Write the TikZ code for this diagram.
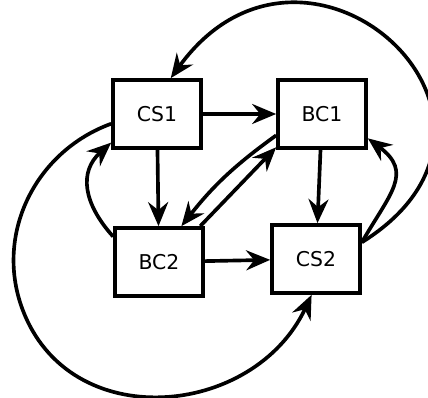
\documentclass[tikz,border=0pt]{standalone}
\usepackage{fontspec}
\setmainfont{DejaVu Sans}
\usetikzlibrary{arrows.meta}

\begin{document}
\begin{tikzpicture}[x=0.025cm, y=0.025cm, line width=2.6pt,
        state/.style={draw, rectangle, minimum width=2.2cm, minimum height=1.7cm,
            font={\fontsize{14.5}{17}\selectfont}},
        link/.style={-{Stealth[length=6mm, width=5mm, inset=2mm]}}]
        \useasboundingbox (0,0) rectangle (428,398);

        \node[state] (cs1) at (157,284) {CS1};
        \node[state] (bc1) at (322,284) {BC1};
        \node[state] (bc2) at (159,136) {BC2};
        \node[state] (cs2) at (316,139) {CS2};
        \coordinate (turn) at (22,90);

        % straight links
        \draw [link] (cs1) -- (bc1);
        \draw [link] (cs1) -- (bc2);
        \draw [link] (bc1) -- (cs2);
        \draw [link] (bc2) -- (cs2);
        \draw [link] (bc1.205) to[bend right=8] (bc2.58);
        \draw [link] (bc2.41) -- (bc1.216);

        % small loops
        \draw [link] (bc2.151) to[out=132, in=222, looseness=1.2] (cs1.212);
        \draw [link] (cs2.20) to[out=60, in=-37, looseness=1.4] (bc1.332);

        % big arcs
        \draw [link] (cs2.20) to[out=32, in=54, looseness=2.35] (cs1.69);
        \draw [link] (cs1.192) to[out=200, in=110] (turn)
            to[out=290, in=245, looseness=1.2] (cs2.-97);
\end{tikzpicture}
\end{document}
